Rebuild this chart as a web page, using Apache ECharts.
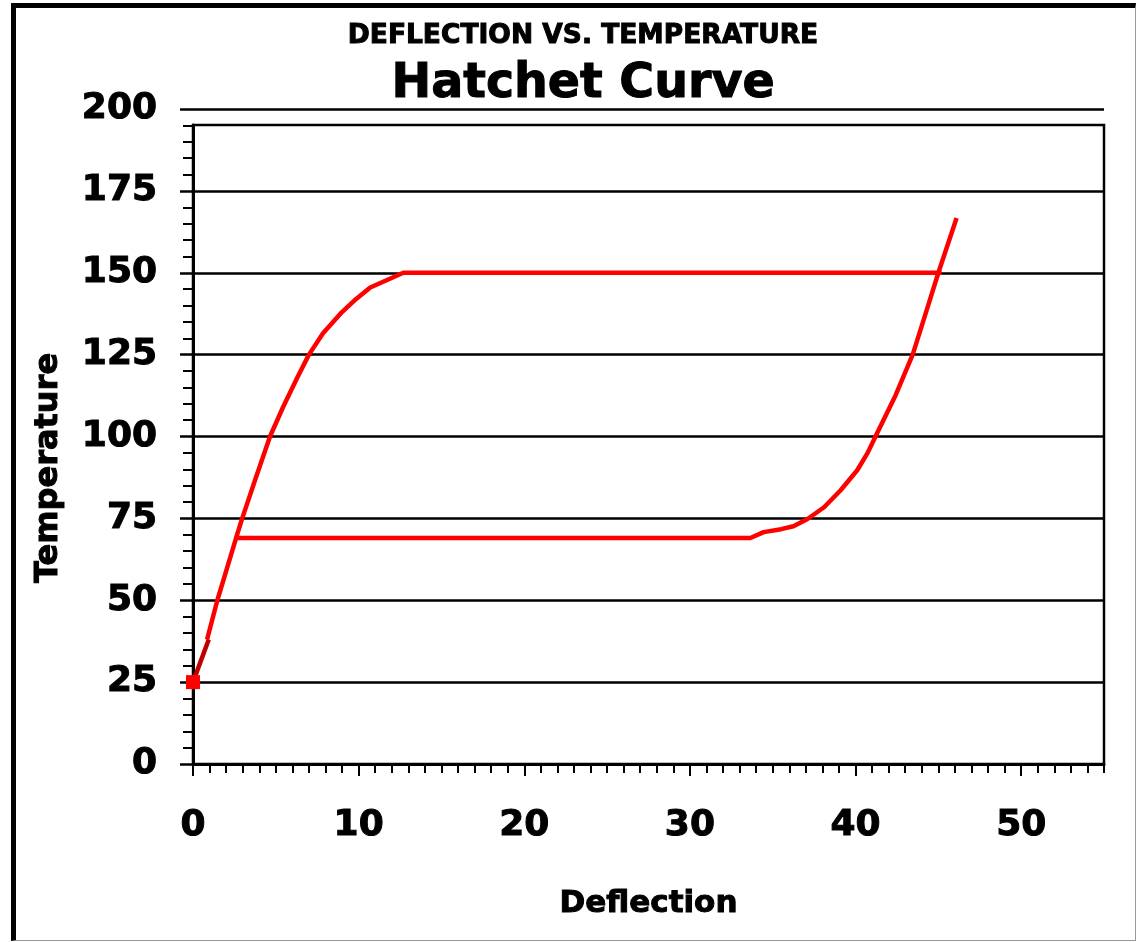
<!DOCTYPE html>
<html>
<head>
<meta charset="utf-8">
<title>Hatchet Curve</title>
<script src="https://cdn.jsdelivr.net/npm/echarts@6/dist/echarts.min.js"></script>
<style>
  html, body { margin: 0; padding: 0; background: #fff; }
  #chart { position: absolute; left: 0; top: 0; width: 1137px; height: 942px; }
  #frame {
    position: absolute; left: 11px; top: 3px; width: 1119px; height: 932px;
    border-left: 5px solid #000; border-top: 5px solid #000;
    border-right: 1px solid #999; border-bottom: 1px solid #999;
    pointer-events: none;
  }
</style>
</head>
<body>
<div id="chart"></div>
<div id="frame"></div>
<script>
// first short segment, drawn darker, with the start marker
const startX = [0, 0.95];
const startY = [25, 38];

// heating: up the left curve, then across at 150
const heatX = [0.85, 1.47, 2.6, 2.97, 3.8, 4.65, 5.44, 6.3, 7.0, 7.85, 8.9, 9.85, 10.7, 12.7, 45.2];
const heatY = [38, 50, 69, 75, 87.5, 100, 109, 118, 125, 131.5, 137.5, 142, 145.5, 150, 150];

// lower step at 69, then the right-hand curve
const coolX = [2.6, 33.65, 34.45, 35.5, 36.25, 37.1, 38.1, 39.1, 40.1, 40.73, 41.3, 42.42, 43.45, 44.23, 45.0, 46.1];
const coolY = [69, 69, 70.8, 71.7, 72.6, 74.8, 78.4, 83.6, 89.7, 95, 101, 112.6, 125, 137.5, 150, 166.7];

const xMax = 55;
const yMax = 200;
const xStep = 10;
const yStep = 25;

const FONT = '"DejaVu Sans", Verdana, sans-serif';
const pairs = (xs, ys) => xs.map((x, i) => [x, ys[i]]);
const black = { color: '#000', width: 2 };
const heavy = (size) => ({
  fontFamily: FONT, fontSize: size, fontWeight: 'bold', color: '#000',
  textBorderColor: '#000', textBorderWidth: 1
});

const chart = echarts.init(document.getElementById('chart'));

const startData = pairs(startX, startY).map((p, i) =>
  i === 0 ? { value: p } : { value: p, symbol: 'none' });

chart.setOption({
  backgroundColor: '#fff',
  animation: false,
  title: [
    {
      text: 'DEFLECTION VS. TEMPERATURE',
      left: 578, top: 18, textAlign: 'center',
      textStyle: heavy(26.5)
    },
    {
      text: 'Hatchet Curve',
      left: 578, top: 56, textAlign: 'center',
      textStyle: heavy(47.5)
    }
  ],
  grid: [
    { left: 193, right: 33, top: 109, bottom: 178 },
    // plot frame, its top sits a little below the 200 line
    { left: 193, right: 33, top: 125, bottom: 178, show: true,
      borderColor: '#000', borderWidth: 2.5, backgroundColor: 'transparent' }
  ],
  xAxis: [
    {
      type: 'value', gridIndex: 0, position: 'bottom',
      min: 0, max: xMax, interval: xStep,
      axisLine: { show: true, onZero: false, lineStyle: { color: '#000', width: 3 } },
      axisTick: { show: true, length: 12, lineStyle: black },
      axisLabel: Object.assign({ margin: 44, showMaxLabel: false }, heavy(36)),
      splitLine: { show: false },
      name: 'Deflection', nameLocation: 'middle', nameGap: 124,
      nameTextStyle: heavy(31)
    },
    {
      // minor ticks every unit
      type: 'value', gridIndex: 0, position: 'bottom',
      min: 0, max: xMax, interval: 1,
      axisLine: { show: false, onZero: false },
      axisTick: { show: true, length: 9, lineStyle: black },
      axisLabel: { show: false },
      splitLine: { show: false }
    },
    { type: 'value', gridIndex: 1, min: 0, max: 1, show: false }
  ],
  yAxis: [
    {
      type: 'value', gridIndex: 0,
      min: 0, max: yMax, interval: yStep,
      axisLine: { show: false, onZero: false },
      axisTick: { show: true, length: 13, lineStyle: { color: '#000', width: 2.5 } },
      minorTick: { show: true, splitNumber: 5, length: 10, lineStyle: black },
      splitLine: { show: true, lineStyle: { color: '#000', width: 2.5 } },
      axisLabel: Object.assign({ margin: 36 }, heavy(36)),
      name: 'Temperature', nameLocation: 'middle', nameRotate: 90, nameGap: 128,
      nameTextStyle: Object.assign({ padding: [0, 63, 0, 0] }, heavy(32))
    },
    {
      type: 'value', gridIndex: 1, min: 0, max: 1,
      axisLine: { show: true, onZero: false, lineStyle: { color: '#000', width: 3 } },
      axisTick: { show: false }, axisLabel: { show: false }, splitLine: { show: false }
    }
  ],
  series: [
    {
      type: 'line', xAxisIndex: 0, yAxisIndex: 0,
      data: pairs(heatX, heatY),
      symbol: 'none', lineStyle: { color: '#ff0000', width: 4.5 }
    },
    {
      type: 'line', xAxisIndex: 0, yAxisIndex: 0,
      data: pairs(coolX, coolY),
      symbol: 'none', lineStyle: { color: '#ff0000', width: 4.5 }
    },
    {
      type: 'line', xAxisIndex: 0, yAxisIndex: 0,
      data: startData,
      symbol: 'rect', symbolSize: 14,
      itemStyle: { color: '#ff0000' },
      lineStyle: { color: '#c00000', width: 4.5 }
    }
  ]
});
</script>
</body>
</html>
